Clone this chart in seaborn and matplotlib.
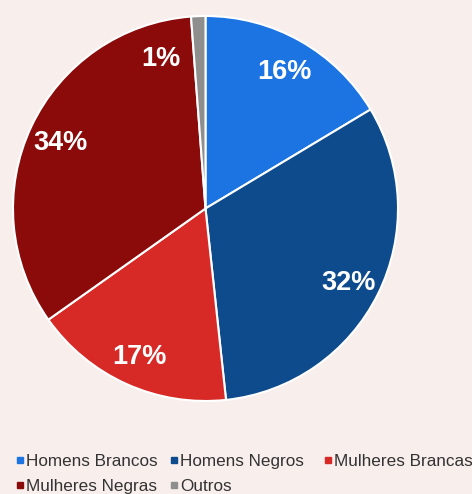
import matplotlib
matplotlib.use("Agg")
import matplotlib.pyplot as plt
import seaborn as sns
from matplotlib.lines import Line2D

categories = ["Homens Brancos", "Homens Negros", "Mulheres Brancas", "Mulheres Negras", "Outros"]
values = [16.4, 31.9, 16.9, 33.6, 1.2]
colors = ["#1b74e2", "#0e4b8c", "#d72a27", "#8b0b0b", "#8e8e8e"]

sns.set_theme(style="white")
plt.rcParams['font.family'] = ['Liberation Sans', 'DejaVu Sans']
bg = "#f8eeec"

fig = plt.figure(figsize=(4.72, 4.94), dpi=100, facecolor=bg)
ax = fig.add_axes([13/472, 93/494, 385/472, 385/494])
ax.set_facecolor(bg)

wedges, texts, autotexts = ax.pie(
    values, colors=colors, startangle=90, counterclock=False,
    autopct=lambda p: f"{p:.0f}%", pctdistance=0.83, radius=1,
    wedgeprops=dict(edgecolor="white", linewidth=1.5),
    textprops=dict(color="white", fontsize=19.5, fontweight="bold"))
ax.set_xlim(-1, 1)
ax.set_ylim(-1, 1)
ax.set_aspect("equal")
for t in autotexts:
    t.set_va("center_baseline")
# small-slice label moved into neighbouring area like the reference
autotexts[4].set_position((-0.23, 0.79))

def handle(c):
    return Line2D([0], [0], marker="s", linestyle="none", markersize=4,
                  markerfacecolor=c, markeredgecolor=c)

cols = [[0, 3], [1, 4], [2]]
xs = [17.0, 171.0, 325.0]
for col, x in zip(cols, xs):
    fig.legend([handle(colors[i]) for i in col], [categories[i] for i in col],
               loc="upper left", bbox_to_anchor=(x/472, 1 - 453.5/494),
               frameon=False, fontsize=12.3, handlelength=0.3, handletextpad=0.25,
               borderpad=0, borderaxespad=0, labelspacing=0.62,
               labelcolor="#333333")

fig.savefig("out.png", dpi=100, facecolor=bg)
